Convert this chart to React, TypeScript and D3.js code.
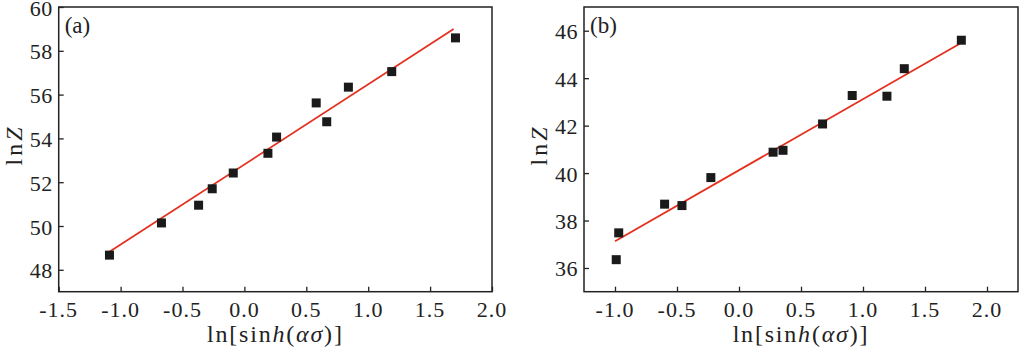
import React, { useEffect, useRef } from 'react';
import * as d3 from 'd3';

// panel (a)
const xA = [-1.09, -0.67, -0.37, -0.26, -0.09, 0.19, 0.26, 0.58, 0.665, 0.84, 1.19, 1.705];
const yA = [48.67, 50.14, 50.95, 51.7, 52.42, 53.32, 54.06, 55.62, 54.76, 56.34, 57.05, 58.59];
const fitXA = [-1.09, 1.69];
const fitYA = [48.82, 58.99];
const xTicksA = [-1.5, -1.0, -0.5, 0.0, 0.5, 1.0, 1.5, 2.0];
const yTicksA = [48, 50, 52, 54, 56, 58, 60];

// panel (b)
const xB = [-0.99, -0.97, -0.6, -0.46, -0.227, 0.275, 0.355, 0.674, 0.913, 1.193, 1.333, 1.793];
const yB = [36.35, 37.48, 38.69, 38.63, 39.81, 40.88, 40.96, 42.07, 43.27, 43.24, 44.4, 45.6];
const fitXB = [-1.0, 1.78];
const fitYB = [37.13, 45.45];
const xTicksB = [-1.0, -0.5, 0.0, 0.5, 1.0, 1.5, 2.0];
const yTicksB = [36, 38, 40, 42, 44, 46];

const FONT = 'Liberation Serif';
const INK = '#222';

const fmt = d => d.toFixed(1);

const drawPanel = (svg, opt) => {
    const { left, right, top, bottom, xDomain, yDomain, xs, ys, fitX, fitY, xTicks, yTicks, tag } = opt;
    const x = d3.scaleLinear().domain(xDomain).range([left, right]);
    const y = d3.scaleLinear().domain(yDomain).range([bottom, top]);
    const g = svg.append('g');

    g.append('rect')
        .attr('x', left).attr('y', top)
        .attr('width', right - left).attr('height', bottom - top)
        .attr('fill', 'none').attr('stroke', INK).attr('stroke-width', 1.5);

    // inward ticks
    const xAxis = g.append('g')
        .attr('transform', `translate(0,${bottom})`)
        .call(d3.axisTop(x).tickValues(xTicks).tickSize(5).tickFormat(() => ''));
    xAxis.select('.domain').remove();
    xAxis.selectAll('line').attr('stroke', INK).attr('stroke-width', 1.3);

    const yAxis = g.append('g')
        .attr('transform', `translate(${left},0)`)
        .call(d3.axisRight(y).tickValues(yTicks).tickSize(5).tickFormat(() => ''));
    yAxis.select('.domain').remove();
    yAxis.selectAll('line').attr('stroke', INK).attr('stroke-width', 1.3);

    g.selectAll('.xlab')
        .data(xTicks)
        .enter()
        .append('text')
        .attr('x', d => x(d))
        .attr('y', bottom + 25)
        .attr('text-anchor', 'middle')
        .attr('font-family', FONT)
        .attr('font-size', 22)
        .attr('letter-spacing', 1)
        .attr('fill', INK)
        .text(d => fmt(d));

    g.selectAll('.ylab')
        .data(yTicks)
        .enter()
        .append('text')
        .attr('x', left - 6)
        .attr('y', d => y(d) + 8.5)
        .attr('text-anchor', 'end')
        .attr('font-family', FONT)
        .attr('font-size', 22)
        .attr('letter-spacing', 0.5)
        .attr('fill', INK)
        .text(d => d);

    // fit line
    g.append('line')
        .attr('x1', x(fitX[0])).attr('y1', y(fitY[0]))
        .attr('x2', x(fitX[1])).attr('y2', y(fitY[1]))
        .attr('stroke', '#e3301f').attr('stroke-width', 1.8);

    g.selectAll('.pt')
        .data(xs.map((v, i) => [v, ys[i]]))
        .enter()
        .append('rect')
        .attr('x', d => x(d[0]) - 4.5)
        .attr('y', d => y(d[1]) - 4.5)
        .attr('width', 9)
        .attr('height', 9)
        .attr('fill', '#1a1a1a');

    g.append('text')
        .attr('x', left + 6).attr('y', top + 26)
        .attr('font-family', FONT).attr('font-size', 23).attr('fill', INK)
        .text(tag);

    // x title
    const xt = g.append('text')
        .attr('x', (left + right) / 2).attr('y', bottom + 50)
        .attr('text-anchor', 'middle')
        .attr('font-family', FONT).attr('font-size', 24)
        .attr('letter-spacing', 1.8).attr('fill', INK);
    xt.append('tspan').text('ln[sin');
    xt.append('tspan').attr('font-style', 'italic').text('h');
    xt.append('tspan').text('(');
    xt.append('tspan').attr('font-style', 'italic').text('ασ');
    xt.append('tspan').text(')]');

    // y title
    const yt = g.append('text')
        .attr('transform', `translate(${left - 37},145) rotate(-90)`)
        .attr('text-anchor', 'middle')
        .attr('font-family', FONT).attr('font-size', 24)
        .attr('letter-spacing', 3).attr('fill', INK);
    yt.append('tspan').text('ln');
    yt.append('tspan').attr('font-style', 'italic').text('Z');
};

const App = () => {
    const svgRef = useRef(null);

    useEffect(() => {
        const svg = d3.select(svgRef.current);
        svg.selectAll('*').remove();

        drawPanel(svg, {
            left: 58.7, right: 492, top: 7, bottom: 291.7,
            xDomain: [-1.5, 2.0], yDomain: [47, 60],
            xs: xA, ys: yA, fitX: fitXA, fitY: fitYA,
            xTicks: xTicksA, yTicks: yTicksA, tag: '(a)'
        });

        drawPanel(svg, {
            left: 584, right: 1018, top: 7, bottom: 291.7,
            xDomain: [-1.25, 2.25], yDomain: [35, 47],
            xs: xB, ys: yB, fitX: fitXB, fitY: fitYB,
            xTicks: xTicksB, yTicks: yTicksB, tag: '(b)'
        });
    }, []);

    return (
        <svg
            ref={svgRef}
            width={1019}
            height={351}
            style={{ position: 'absolute', left: 0, top: 0, background: '#fff' }}
        />
    );
};

export default App;
